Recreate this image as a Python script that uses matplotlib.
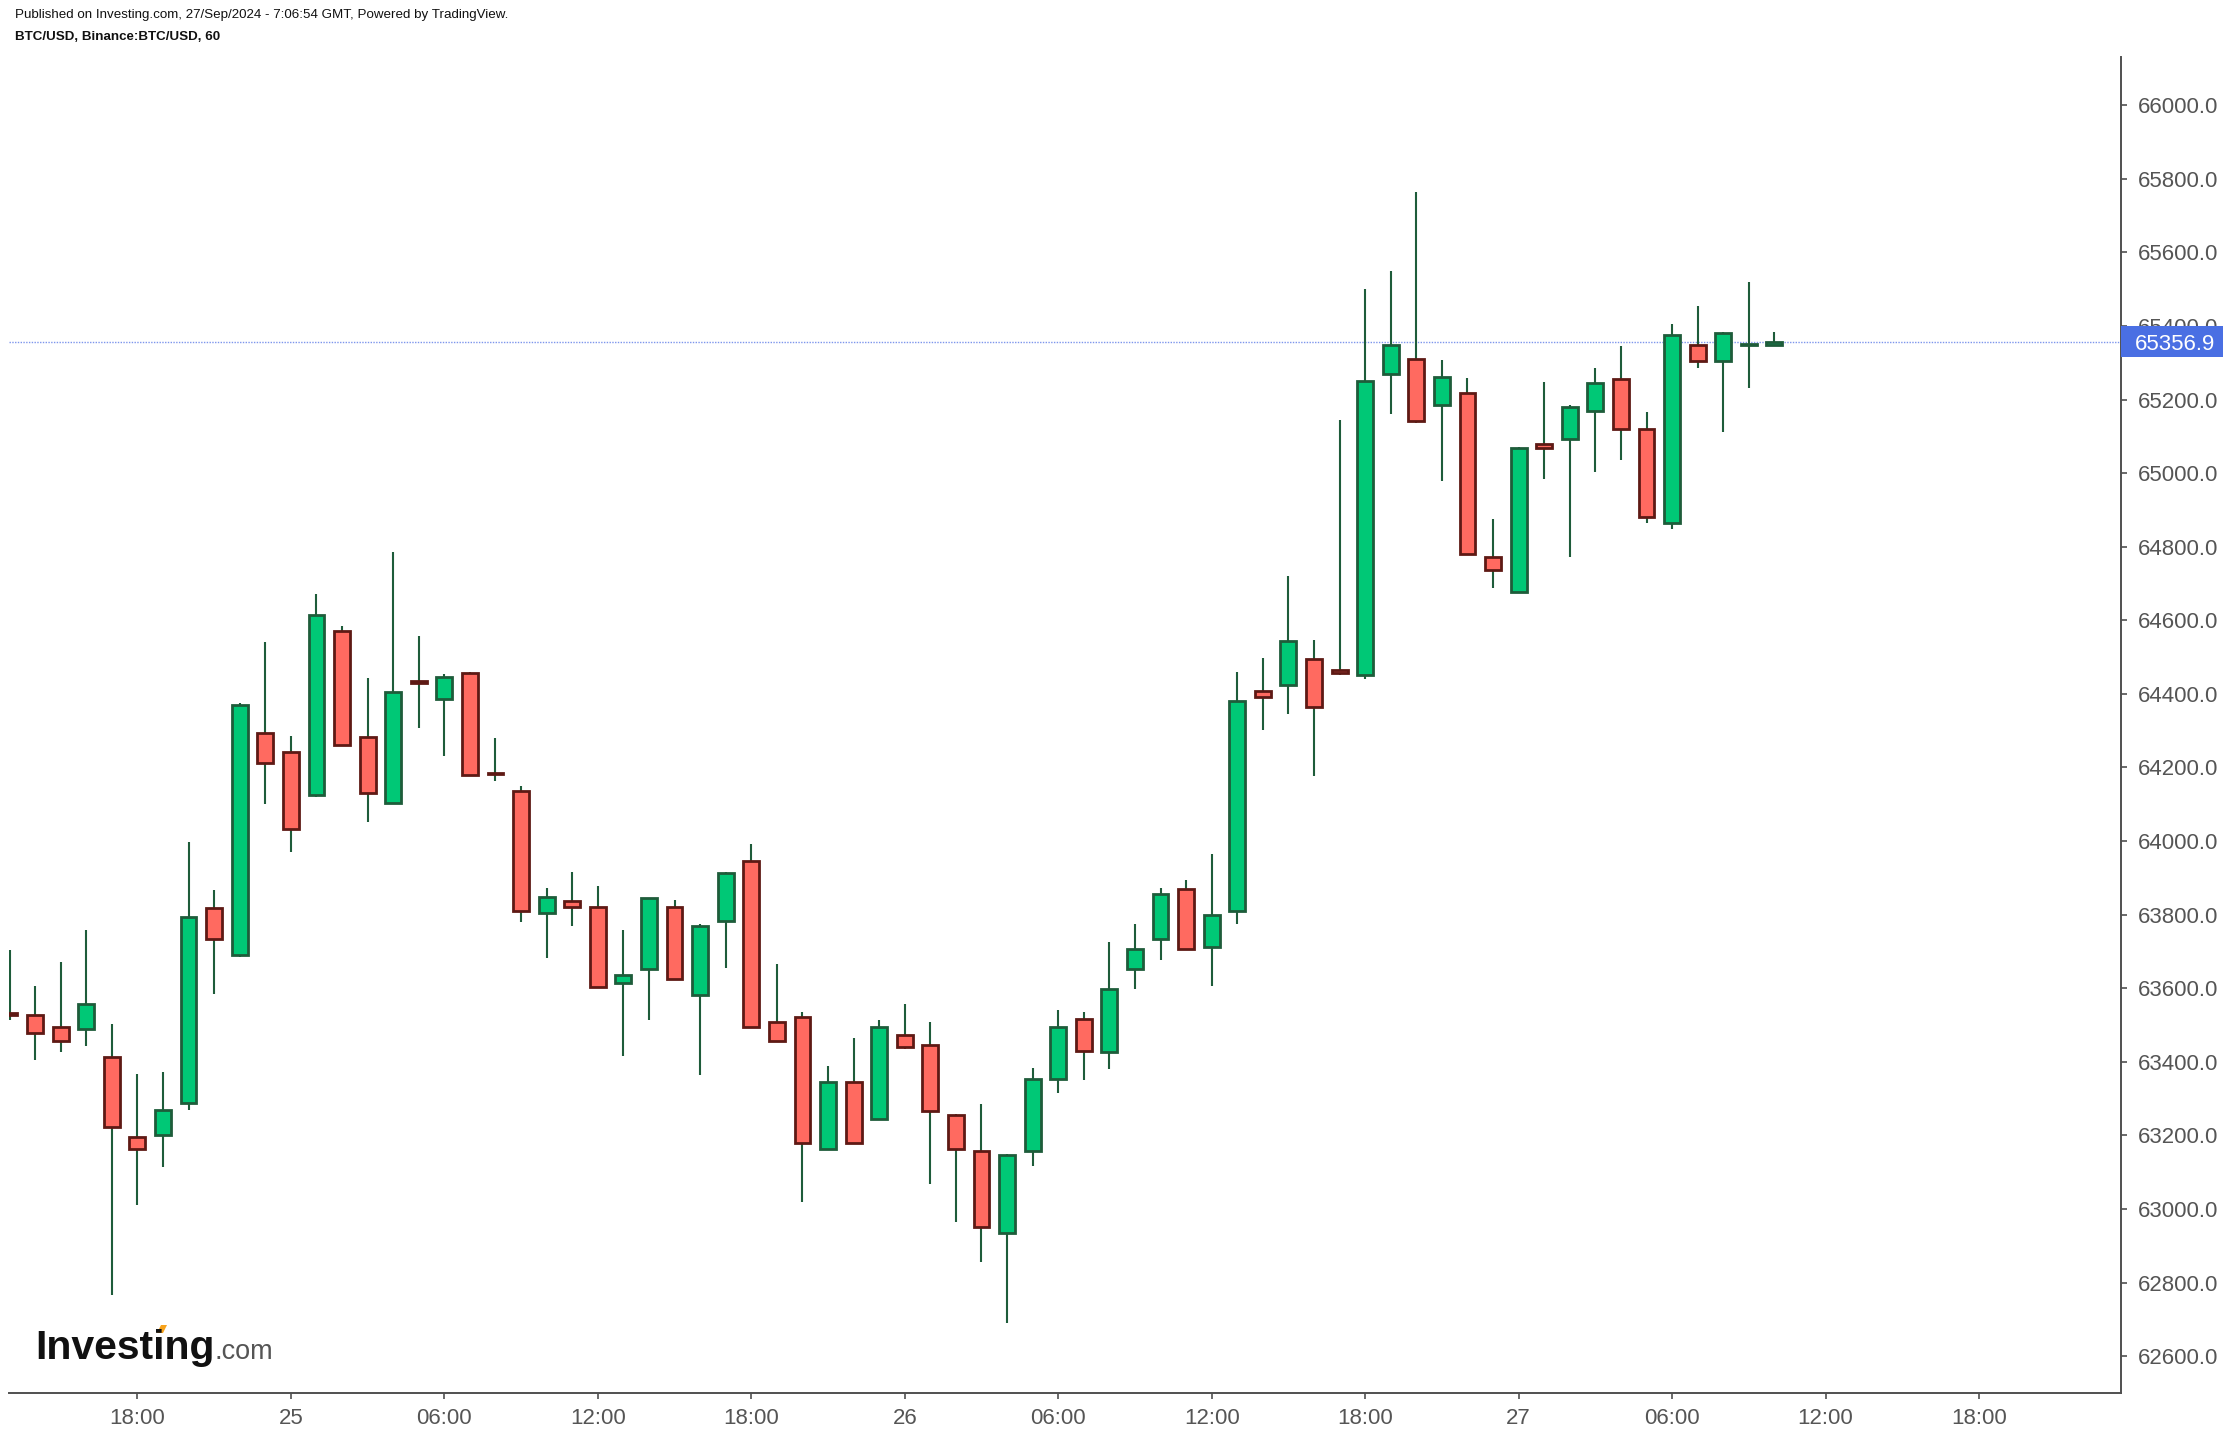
import pandas as pd
import matplotlib
matplotlib.use("Agg")
import matplotlib.pyplot as plt
import matplotlib.transforms as mtransforms
from matplotlib.patches import Polygon, Rectangle

plt.rcParams['font.family'] = ['Liberation Sans', 'DejaVu Sans']

# BTC/USD hourly candles, 24 Sep 13:00 -> 27 Sep 10:00 (GMT)
start = pd.Timestamp('2024-09-24 13:00')
opens = [63532, 63528, 63496, 63489, 63414, 63197, 63201, 63288, 63817, 63690,
         64295, 64241, 64125, 64572, 64284, 64103, 64435, 64386, 64458, 64185,
         64137, 63804, 63838, 63822, 63614, 63652, 63822, 63582, 63784, 63947,
         63507, 63522, 63164, 63344, 63245, 63474, 63447, 63256, 63158, 62935,
         63158, 63354, 63517, 63427, 63652, 63733, 63871, 63712, 63809, 64409,
         64424, 64496, 64466, 64452, 65270, 65310, 65185, 65219, 64771, 64678,
         65078, 65093, 65168, 65257, 65121, 64865, 65349, 65304, 65348, 65349]
highs = [63704, 63607, 63672, 63759, 63503, 63367, 63373, 63998, 63867, 64375,
         64541, 64286, 64672, 64585, 64443, 64786, 64558, 64453, 64460, 64280,
         64150, 63873, 63916, 63878, 63759, 63846, 63840, 63775, 63916, 63992,
         63666, 63535, 63389, 63465, 63514, 63558, 63509, 63258, 63286, 63150,
         63384, 63541, 63535, 63726, 63775, 63873, 63895, 63965, 64460, 64498,
         64721, 64547, 65145, 65501, 65549, 65765, 65307, 65258, 64876, 65070,
         65247, 65185, 65285, 65346, 65166, 65405, 65454, 65384, 65520, 65383]
lows = [63514, 63406, 63428, 63444, 62765, 63010, 63113, 63270, 63585, 63686,
        64102, 63971, 64120, 64258, 64053, 64100, 64308, 64232, 64178, 64162,
        63781, 63683, 63770, 63600, 63417, 63515, 63622, 63363, 63656, 63492,
        63455, 63020, 63160, 63177, 63242, 63434, 63069, 62966, 62857, 62690,
        63118, 63315, 63350, 63380, 63598, 63678, 63705, 63607, 63776, 64303,
        64346, 64178, 64452, 64440, 65162, 65135, 64979, 64778, 64687, 64676,
        64984, 64773, 65004, 65037, 64864, 64847, 65287, 65113, 65232, 65346]
closes = [63528, 63478, 63456, 63556, 63222, 63164, 63268, 63795, 63733, 64371,
          64212, 64032, 64615, 64261, 64130, 64404, 64431, 64447, 64180, 64181,
          63810, 63849, 63821, 63604, 63637, 63844, 63626, 63768, 63914, 63495,
          63457, 63179, 63344, 63179, 63496, 63441, 63267, 63164, 62952, 63148,
          63354, 63495, 63430, 63599, 63708, 63855, 63707, 63800, 64382, 64391,
          64545, 64364, 64456, 65251, 65348, 65141, 65261, 64780, 64737, 65068,
          65068, 65181, 65246, 65119, 64880, 65376, 65305, 65382, 65350, 65356.9]
last_price = 65356.9

df = pd.DataFrame({'open': opens, 'high': highs, 'low': lows, 'close': closes},
                  index=pd.date_range(start, periods=len(opens), freq='h'))
df['x'] = (df.index - start) / pd.Timedelta(hours=1)
df['up'] = df['close'] >= df['open']

verde, verde_borde = '#00c876', '#1e5c3a'
rojo, rojo_borde = '#ff6a60', '#5e1914'

fig = plt.figure(figsize=(22.3, 14.36), dpi=100)
W, H = 2230, 1436
ax = fig.add_axes([9 / W, (H - 1393) / H, (2121 - 9) / W, (1393 - 57) / H])

# mechas
ax.vlines(df['x'], df['low'], df['high'], color=verde_borde, lw=1.5, zorder=1)

# cuerpos
for up, color, borde in [(True, verde, verde_borde), (False, rojo, rojo_borde)]:
    d = df[df['up'] == up]
    bottom = d[['open', 'close']].min(axis=1)
    height = (d['close'] - d['open']).abs()
    ax.bar(d['x'], height, bottom=bottom, width=0.62, color=color,
           edgecolor=borde, linewidth=2.0, zorder=2)

ax.axhline(last_price, color='#7d95ec', ls=(0, (1, 1)), lw=1.0, zorder=0)

ax.set_xlim(-0.02, 82.55)
ax.set_ylim(62500, 66131)

# eje y a la derecha
yticks = list(range(62600, 66001, 200))
ax.yaxis.tick_right()
ax.set_yticks(yticks)
ax.set_yticklabels([f'{v:.1f}' for v in yticks])

# eje x: marcas cada 6 horas
tick_times = pd.date_range('2024-09-24 18:00', '2024-09-27 18:00', freq='6h')
tick_x = [(t - start) / pd.Timedelta(hours=1) for t in tick_times]
tick_lab = [str(t.day) if t.hour == 0 else t.strftime('%H:%M') for t in tick_times]
ax.set_xticks(tick_x)
ax.set_xticklabels(tick_lab)

for s in ['top', 'left']:
    ax.spines[s].set_visible(False)
for s in ['bottom', 'right']:
    ax.spines[s].set_color('#505050')
    ax.spines[s].set_linewidth(1.4)
ax.tick_params(axis='both', colors='#505050', labelcolor='#555555',
               labelsize=16, length=4, width=1.2)
ax.tick_params(axis='y', pad=8)
ax.tick_params(axis='x', pad=7)

# etiqueta del último precio (caja azul sobre el eje derecho)
trans = mtransforms.blended_transform_factory(ax.transAxes, ax.transData)
caja_w = 102 / (2121 - 9)
caja_h = 31 / ((1393 - 57) / (66131 - 62500))
ax.add_patch(Rectangle((1.0, last_price - caja_h / 2), caja_w, caja_h,
                       transform=trans, fc='#4a6fe3', ec='none',
                       clip_on=False, zorder=10))
ax.text(1.0 + 14 / (2121 - 9), last_price, f'{last_price:.1f}', transform=trans,
        ha='left', va='center_baseline', color='white', fontsize=16,
        clip_on=False, zorder=11)

# textos de cabecera
fig.text(15 / W, 1 - 15 / H, 'Published on Investing.com, 27/Sep/2024 - 7:06:54 GMT, Powered by TradingView.',
         fontsize=9.65, color='#111111', va='center', ha='left')
fig.text(15 / W, 1 - 37 / H, 'BTC/USD, Binance:BTC/USD, 60',
         fontsize=9.6, color='#111111', va='center', ha='left', fontweight='bold')

# logo
t1 = fig.text(35 / W, 1 - 1359 / H, 'Investing', fontsize=29.5, fontweight='bold',
              color='#111111', va='baseline', ha='left')
fig.canvas.draw()
bb = t1.get_window_extent(renderer=fig.canvas.get_renderer())
fig.text(bb.x1 / W, 1 - 1359 / H, '.com', fontsize=19.5, color='#555555',
         va='baseline', ha='left')
fig.patches.append(Polygon([[157 / W, 1 - 1333 / H], [163 / W, 1 - 1333 / H],
                            [167 / W, 1 - 1325 / H], [161 / W, 1 - 1325 / H]],
                           closed=True, transform=fig.transFigure,
                           fc='#f7a21b', ec='none'))

fig.savefig('out.png', dpi=100)
